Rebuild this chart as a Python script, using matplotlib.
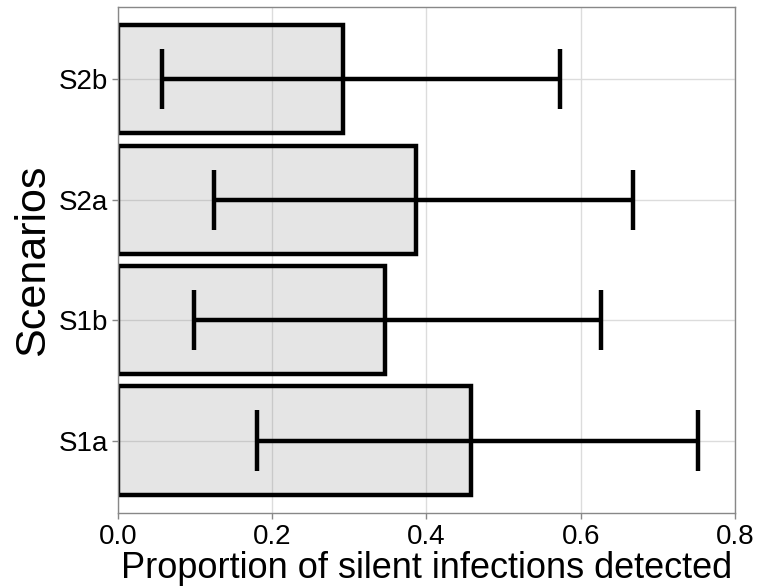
import matplotlib
matplotlib.use("Agg")
import matplotlib.pyplot as plt

plt.rcParams['font.family'] = ['Liberation Sans', 'DejaVu Sans']

# Scenario data (bottom to top)
scenarios = ['S1a', 'S1b', 'S2a', 'S2b']
proportion = [0.458, 0.347, 0.387, 0.292]
ci_low = [0.181, 0.099, 0.125, 0.057]
ci_high = [0.752, 0.626, 0.668, 0.573]

fig = plt.figure(figsize=(7.6, 5.86), dpi=100)
ax = fig.add_axes([0.155, 0.125, 0.812, 0.863])

pos = list(range(1, len(scenarios) + 1))

ax.barh(pos, proportion, height=0.9, facecolor=(0.5, 0.5, 0.5, 0.2),
        edgecolor='black', linewidth=3.2, zorder=2)

# error bars with caps (cap width 0.5 in category units)
ax.hlines(pos, ci_low, ci_high, color='black', linewidth=3.2, zorder=3)
ax.vlines(ci_low, [p - 0.25 for p in pos], [p + 0.25 for p in pos],
          color='black', linewidth=3.2, zorder=3)
ax.vlines(ci_high, [p - 0.25 for p in pos], [p + 0.25 for p in pos],
          color='black', linewidth=3.2, zorder=3)

ax.set_xlim(0, 0.8)
ax.set_ylim(0.4, 4.6)
ax.set_xticks([0.0, 0.2, 0.4, 0.6, 0.8])
ax.set_xticklabels(['0.0', '0.2', '0.4', '0.6', '0.8'])
ax.set_yticks(pos)
ax.set_yticklabels(scenarios)

ax.grid(True, color='#dcdcdc', linewidth=1.0, zorder=0)
ax.set_axisbelow(True)
for s in ax.spines.values():
    s.set_color('#888888')
    s.set_linewidth(1.0)
ax.tick_params(axis='both', colors='#888888', length=4, width=1.0,
               labelsize=20, labelcolor='black')
ax.tick_params(axis='x', pad=4)
ax.tick_params(axis='y', pad=3)

ax.set_xlabel('Proportion of silent infections detected', fontsize=26, labelpad=1)
ax.set_ylabel('Scenarios', fontsize=31, labelpad=4)

plt.savefig('out.png', dpi=100)
